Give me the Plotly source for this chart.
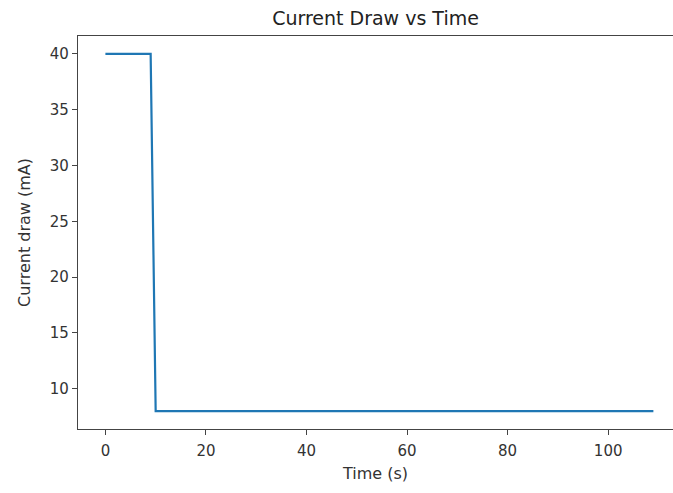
import plotly.graph_objects as go

time_s = list(range(0, 110))
current_ma = [40] * 10 + [8] * 100

fig = go.Figure()
fig.add_trace(go.Scatter(x=time_s, y=current_ma, mode="lines",
                         line=dict(color="#1f77b4", width=2.2), showlegend=False))

font = "DejaVu Sans"
fig.update_layout(
    width=673, height=493,
    margin=dict(l=78, r=0, t=36, b=64),
    paper_bgcolor="white", plot_bgcolor="white",
    font=dict(family=font, size=15, color="#333333"),
    title=dict(text="Current Draw vs Time", x=0.5, xanchor="center", xref="paper",
               y=1 - 18 / 493, yanchor="middle", font=dict(size=19, color="#222222")),
)
fig.update_xaxes(range=[-5.45, 112.9], tickvals=[0, 20, 40, 60, 80, 100],
                 showgrid=False, zeroline=False, showline=True, linecolor="#444444",
                 linewidth=1.2, mirror=True, ticks="outside", ticklen=5, tickcolor="#444444",
                 ticklabelstandoff=3,
                 title=dict(text="Time (s)", font=dict(size=16), standoff=8))
fig.update_yaxes(range=[6.4, 41.6], tickvals=[10, 15, 20, 25, 30, 35, 40],
                 showgrid=False, zeroline=False, showline=True, linecolor="#444444",
                 linewidth=1.2, ticks="outside", ticklen=5, tickcolor="#444444",
                 title=dict(text="Current draw (mA)", font=dict(size=16), standoff=15))
fig.write_html("out.html", config={"displayModeBar": False},
               post_script="document.body.style.margin='0';")
